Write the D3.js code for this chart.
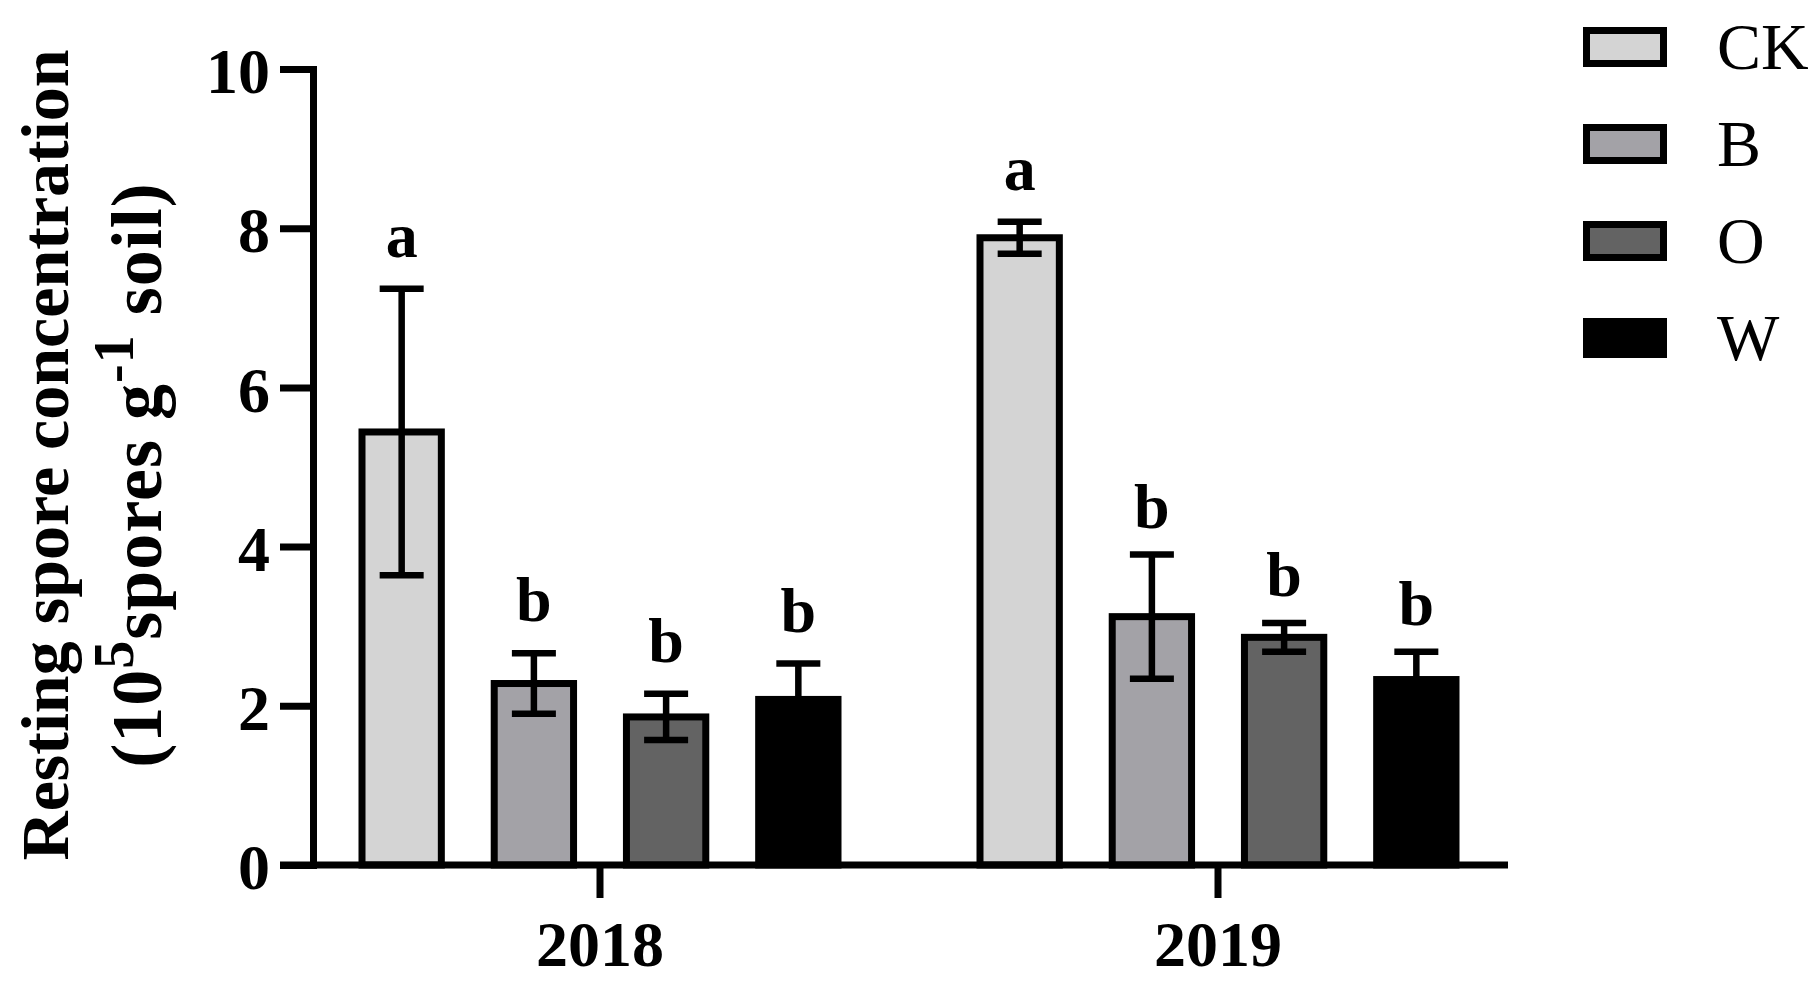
<!DOCTYPE html>
<html>
<head>
<meta charset="utf-8">
<script src="https://cdn.jsdelivr.net/npm/d3@7"></script>
<style>
  html, body { margin: 0; padding: 0; background: #fff; }
  svg { display: block; }
  text { font-family: "Liberation Serif", "Times New Roman", serif; fill: #000; }
</style>
</head>
<body>
<svg id="chart" width="1815" height="989"></svg>
<script>
// ---- data ----
const years = ["2018", "2019"];
const series = ["CK", "B", "O", "W"];
const values2018 = [5.44, 2.28, 1.86, 2.08];
const values2019 = [7.88, 3.12, 2.86, 2.33];
const errors2018 = [1.80, 0.38, 0.29, 0.45];
const errors2019 = [0.20, 0.78, 0.18, 0.35];
const letters2018 = ["a", "b", "b", "b"];
const letters2019 = ["a", "b", "b", "b"];
const yTicks = [0, 2, 4, 6, 8, 10];
const colors = ["#d4d4d4", "#a3a2a7", "#636363", "#000000"];

const rows = [];
years.forEach((yr, gi) => {
  const vals = gi === 0 ? values2018 : values2019;
  const errs = gi === 0 ? errors2018 : errors2019;
  const lets = gi === 0 ? letters2018 : letters2019;
  series.forEach((s, si) => rows.push({ year: yr, series: s, value: vals[si], err: errs[si], letter: lets[si] }));
});

const svg = d3.select("#chart");
const SW = 7;

const y = d3.scaleLinear().domain([0, 10]).range([865, 69]);
const x0 = d3.scaleBand().domain(years).range([291, 1527]).paddingInner(0).paddingOuter(0);
const x1 = d3.scaleBand().domain(series).range([-238, 238]).paddingInner(0.4);
const color = d3.scaleOrdinal().domain(series).range(colors);
const gc = d => x0(d.year) + x0.bandwidth() / 2;

// bars
svg.append("g").selectAll("rect").data(rows).join("rect")
  .attr("x", d => gc(d) + x1(d.series))
  .attr("width", x1.bandwidth())
  .attr("y", d => y(d.value))
  .attr("height", d => y(0) - y(d.value))
  .attr("fill", d => color(d.series))
  .attr("stroke", "#000")
  .attr("stroke-width", SW);

// error bars
const eg = svg.append("g").attr("stroke", "#000").attr("stroke-width", 6.5);
const cx = d => gc(d) + x1(d.series) + x1.bandwidth() / 2;
eg.selectAll("line.v").data(rows).join("line").attr("class", "v")
  .attr("x1", cx).attr("x2", cx)
  .attr("y1", d => y(d.value + d.err)).attr("y2", d => y(d.value - d.err));
eg.selectAll("line.t").data(rows).join("line").attr("class", "t")
  .attr("x1", d => cx(d) - 22).attr("x2", d => cx(d) + 22)
  .attr("y1", d => y(d.value + d.err)).attr("y2", d => y(d.value + d.err));
eg.selectAll("line.b").data(rows).join("line").attr("class", "b")
  .attr("x1", d => cx(d) - 22).attr("x2", d => cx(d) + 22)
  .attr("y1", d => y(d.value - d.err)).attr("y2", d => y(d.value - d.err))
  .attr("stroke", d => d.series === "W" ? "none" : "#000");

// significance letters
svg.append("g").selectAll("text").data(rows).join("text")
  .attr("x", cx)
  .attr("y", d => y(d.value + d.err) - (d.year === "2019" && d.series !== "CK" ? 27 : 32))
  .attr("text-anchor", "middle")
  .attr("font-weight", "bold")
  .attr("font-size", 64)
  .text(d => d.letter);

// y axis
const yAxis = svg.append("g").attr("transform", "translate(313,0)")
  .call(d3.axisLeft(y).tickValues(yTicks).tickSize(33).tickSizeOuter(0).tickPadding(10).tickFormat(d3.format("d")));
yAxis.select(".domain").attr("stroke-width", SW).attr("stroke-linecap", "square");
yAxis.selectAll(".tick line").attr("stroke-width", SW);
yAxis.selectAll(".tick text")
  .attr("font-family", "Liberation Serif").attr("font-weight", "bold")
  .attr("font-size", 64).attr("dy", "0.37em");

// x axis
const xAxis = svg.append("g").attr("transform", "translate(0,865)")
  .call(d3.axisBottom(x0).tickSize(33).tickPadding(23));
xAxis.select(".domain").remove();
xAxis.append("line").attr("x1", 280).attr("x2", 1508).attr("y1", 0).attr("y2", 0)
  .attr("stroke", "#000").attr("stroke-width", SW);
xAxis.selectAll(".tick line").attr("stroke-width", SW);
xAxis.selectAll(".tick text")
  .attr("font-family", "Liberation Serif").attr("font-weight", "bold")
  .attr("font-size", 64);

// y axis title
svg.append("text")
  .attr("transform", "translate(68,455) rotate(-90)")
  .attr("text-anchor", "middle").attr("font-weight", "bold").attr("font-size", 68)
  .text("Resting spore concentration");
const t2 = svg.append("text")
  .attr("transform", "translate(161,475) rotate(-90)")
  .attr("text-anchor", "middle").attr("font-weight", "bold").attr("font-size", 72)
  .attr("letter-spacing", 1);
t2.append("tspan").text("(10");
t2.append("tspan").attr("dy", -28).attr("font-size", 56).text("5");
t2.append("tspan").attr("dy", 28).text("spores g");
t2.append("tspan").attr("dy", -28).attr("font-size", 56).text("-1");
t2.append("tspan").attr("dy", 28).text(" soil)");

// legend
const ly = d3.scalePoint().domain(series).range([47, 338]);
const lg = svg.append("g").selectAll("g").data(series).join("g")
  .attr("transform", d => `translate(0,${ly(d)})`);
lg.append("rect")
  .attr("x", 1586.5).attr("y", -16.5).attr("width", 77).attr("height", 33)
  .attr("fill", d => color(d)).attr("stroke", "#000").attr("stroke-width", SW);
lg.append("text")
  .attr("x", 1717).attr("y", 22)
  .attr("font-size", 66)
  .text(d => d);
</script>
</body>
</html>
